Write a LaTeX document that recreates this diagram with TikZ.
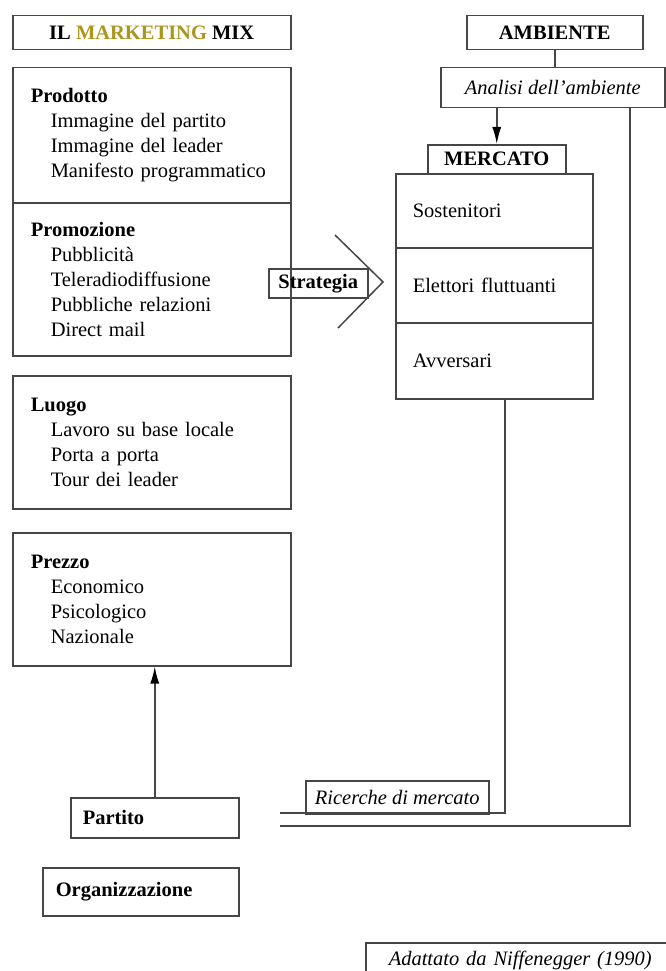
\documentclass[tikz,border=0pt]{standalone}
\usepackage{fontspec}
\setmainfont{Liberation Serif}
\usetikzlibrary{positioning,arrows.meta}
\definecolor{mkyellow}{RGB}{172,150,28}
\definecolor{linegray}{RGB}{70,70,70}
\newcommand{\rientro}{\hspace*{20pt}}
\tikzstyle{mixbox} = [draw=linegray, line width=1.5pt, anchor=north west, minimum width=278pt, text width=242pt, inner xsep=18pt, align=left]
\tikzstyle{tag} = [draw=linegray, line width=1.5pt, anchor=north west, inner sep=0pt]
\tikzstyle{segmento} = [draw=linegray, line width=1.5pt, anchor=north west, minimum width=197pt, text width=163pt, inner xsep=17pt, align=left]
\tikzstyle{linea} = [draw=linegray, line width=1.5pt]
\tikzstyle{freccia} = [-{Latex[length=17pt,width=9pt,color=black]}]

\begin{document}
\begin{tikzpicture}[x=1pt, y=-1pt, every node/.style={font=\fontsize{20.5}{25}\selectfont}]
		\useasboundingbox[fill=white] (0,0) rectangle (666,971);

		\node[tag, minimum width=278pt, minimum height=34pt] (mix) at (12,15) {\textbf{IL \textcolor{mkyellow}{MARKETING} MIX}};
		\node[tag, minimum width=176pt, minimum height=34pt] (ambiente) at (466,15) {\textbf{AMBIENTE}};
		\node[tag, minimum width=224pt, minimum height=40pt] (analisi) at (440,67) {\itshape Analisi dell'ambiente};

		\node[mixbox, minimum height=135pt] (prodotto) at (12,67) {\textbf{Prodotto}\\
			\rientro Immagine del partito\\
			\rientro Immagine del leader\\
			\rientro Manifesto programmatico};
		\node[mixbox, minimum height=153pt] (promozione) at (12,202) {\textbf{Promozione}\\
			\rientro Pubblicità\\
			\rientro Teleradiodiffusione\\
			\rientro Pubbliche relazioni\\
			\rientro Direct mail};
		\node[mixbox, minimum height=133pt] (luogo) at (12,375) {\textbf{Luogo}\\
			\rientro Lavoro su base locale\\
			\rientro Porta a porta\\
			\rientro Tour dei leader};
		\node[mixbox, minimum height=133pt] (prezzo) at (12,532) {\textbf{Prezzo}\\
			\rientro Economico\\
			\rientro Psicologico\\
			\rientro Nazionale};

		\node[tag, minimum width=138pt, minimum height=29pt] (mercato) at (427,144) {\textbf{MERCATO}};
		\node[segmento, minimum height=74pt] (sostenitori) at (395,173) {Sostenitori};
		\node[segmento, minimum height=75pt] (elettori) at (395,247) {Elettori fluttuanti};
		\node[segmento, minimum height=76pt] (avversari) at (395,322) {Avversari};

		\node[tag, minimum width=99pt, minimum height=29pt] (strategia) at (268,268) {\textbf{Strategia}};
		\draw[linea] (335,235) -- (383,282) -- (338,328);

		\node[tag, minimum width=168pt, minimum height=40pt, text width=144pt, align=left] (partito) at (70,797) {\textbf{Partito}};
		\node[tag, minimum width=196pt, minimum height=48pt, text width=170pt, align=left] (organizzazione) at (42,867) {\textbf{Organizzazione}};
		\node[tag, minimum width=183pt, minimum height=33pt] (ricerche) at (305,780) {\itshape Ricerche di mercato};
		\node[tag, minimum width=330pt, minimum height=36pt, text width=284pt, align=left] (fonte) at (365,942) {\itshape Adattato da Niffenegger (1990)};

		\coordinate (angoloA) at (505,813);
		\coordinate (fineA) at (280,813);
		\coordinate (angoloB) at (630,826);
		\coordinate (fineB) at (280,826);

		\draw[linea] (ambiente.south) -- (ambiente.south |- analisi.north);
		\draw[linea, freccia] (analisi.south -| mercato.north) -- (mercato.north);
		\draw[linea] (avversari.south -| angoloA) -- (angoloA) -- (fineA);
		\draw[linea] (analisi.south -| angoloB) -- (angoloB) -- (fineB);
		\draw[linea, freccia] (partito.north) -- (partito.north |- prezzo.south);
\end{tikzpicture}
\end{document}
